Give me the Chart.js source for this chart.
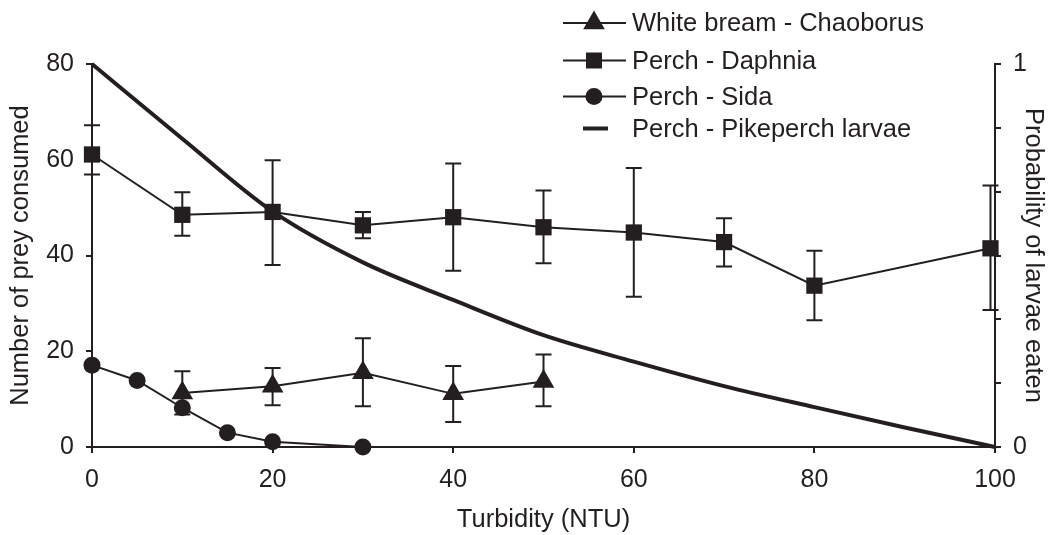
<!DOCTYPE html>
<html>
<head>
<meta charset="utf-8">
<script src="https://cdn.jsdelivr.net/npm/chart.js@4.4.0/dist/chart.umd.min.js"></script>
<style>
  html, body { margin: 0; padding: 0; background: #fff; }
  #wrap { width: 1048px; height: 535px; }
</style>
</head>
<body>
<div id="wrap"><canvas id="chart" width="1048" height="535"></canvas></div>
<script>
const ink = "#231f20";
const fontFamily = "'Liberation Sans', Arial, Helvetica, sans-serif";

// Perch - Daphnia (mean + error bar ends)
const daphniaX = [0, 10, 20, 30, 40, 50, 60, 70, 80, 99.5];
const daphniaY = [61.1, 48.5, 49.1, 46.3, 48.0, 45.9, 44.8, 42.8, 33.7, 41.5];
const daphniaLow = [56.9, 44.1, 38.0, 43.6, 36.8, 38.4, 31.4, 37.7, 26.5, 28.6];
const daphniaHigh = [67.2, 53.2, 59.9, 49.1, 59.2, 53.6, 58.3, 47.8, 41.0, 54.6];

// White bream - Chaoborus
const breamX = [10, 20, 30, 40, 50];
const breamY = [11.3, 12.7, 15.5, 11.1, 13.7];
const breamLow = [6.8, 8.7, 8.5, 5.2, 8.5];
const breamHigh = [15.8, 16.5, 22.7, 16.9, 19.3];

// Perch - Sida
const sidaX = [0, 5, 10, 15, 20, 30];
const sidaY = [17.1, 13.9, 8.2, 3.0, 1.1, 0];

// Perch - Pikeperch larvae (probability, right axis)
const larvaeX = [0, 10, 20, 30, 40, 50, 60, 70, 80, 90, 100];
const larvaeP = [1, 0.805, 0.615, 0.482, 0.384, 0.292, 0.223, 0.159, 0.104, 0.051, 0];

const seriesNames = ["White bream - Chaoborus", "Perch - Daphnia", "Perch - Sida", "Perch - Pikeperch larvae"];
const legendStyles = ["triangle", "rect", "circle", "bar"];

const leftTicks = [0, 20, 40, 60, 80];
const rightTicks = [0, 1 / 6, 2 / 6, 3 / 6, 4 / 6, 5 / 6, 1];

function pts(xs, ys) {
  return xs.map((x, i) => ({ x: x, y: ys[i] }));
}

function marker(ctx, style, x, y) {
  ctx.beginPath();
  if (style === "triangle") {
    const r = 12.5;
    ctx.moveTo(x, y - r);
    ctx.lineTo(x + r * 0.866, y + r / 2);
    ctx.lineTo(x - r * 0.866, y + r / 2);
    ctx.closePath();
    ctx.fill();
  } else if (style === "rect") {
    ctx.rect(x - 8, y - 8, 16, 16);
    ctx.fill();
  } else if (style === "circle") {
    ctx.arc(x, y, 8.5, 0, Math.PI * 2);
    ctx.fill();
  }
}

const errorBars = {
  id: "errorBars",
  beforeDatasetsDraw(chart) {
    const { ctx, scales } = chart;
    ctx.save();
    ctx.strokeStyle = ink;
    ctx.lineWidth = 2;
    [[daphniaX, daphniaLow, daphniaHigh], [breamX, breamLow, breamHigh]].forEach(([xs, lo, hi]) => {
      xs.forEach((v, i) => {
        const px = scales.x.getPixelForValue(v);
        const top = scales.y.getPixelForValue(hi[i]);
        const bot = scales.y.getPixelForValue(lo[i]);
        ctx.beginPath();
        ctx.moveTo(px, top);
        ctx.lineTo(px, bot);
        ctx.moveTo(px - 8, top);
        ctx.lineTo(px + 8, top);
        ctx.moveTo(px - 8, bot);
        ctx.lineTo(px + 8, bot);
        ctx.stroke();
      });
    });
    ctx.restore();
  }
};

const legendBox = {
  id: "legendBox",
  afterDraw(chart) {
    const ctx = chart.ctx;
    const rowsY = [23, 60.5, 96.5, 128.5];
    ctx.save();
    ctx.fillStyle = ink;
    ctx.strokeStyle = ink;
    ctx.font = "25.5px " + fontFamily;
    ctx.textBaseline = "middle";
    seriesNames.forEach((name, i) => {
      const y = rowsY[i];
      if (legendStyles[i] === "bar") {
        ctx.lineWidth = 4;
        ctx.beginPath();
        ctx.moveTo(583, y);
        ctx.lineTo(608, y);
        ctx.stroke();
      } else {
        ctx.lineWidth = 2;
        ctx.beginPath();
        ctx.moveTo(563, y);
        ctx.lineTo(626, y);
        ctx.stroke();
        marker(ctx, legendStyles[i], 594, y);
      }
      ctx.fillText(name, 632, y + 1);
    });
    ctx.restore();
  }
};

const tickFont = { size: 25, family: fontFamily };
const titleFont = { size: 25.5, family: fontFamily };

new Chart(document.getElementById("chart"), {
  type: "scatter",
  data: {
    datasets: [
      {
        label: seriesNames[0],
        data: pts(breamX, breamY),
        showLine: true,
        borderColor: ink,
        borderWidth: 2,
        backgroundColor: ink,
        pointStyle: "triangle",
        pointRadius: 12.5,
        pointBorderWidth: 0,
        yAxisID: "y",
        clip: false
      },
      {
        label: seriesNames[1],
        data: pts(daphniaX, daphniaY),
        showLine: true,
        borderColor: ink,
        borderWidth: 2,
        backgroundColor: ink,
        pointStyle: "rect",
        pointRadius: 11.5,
        pointBorderWidth: 0,
        yAxisID: "y",
        clip: false
      },
      {
        label: seriesNames[2],
        data: pts(sidaX, sidaY),
        showLine: true,
        borderColor: ink,
        borderWidth: 2,
        backgroundColor: ink,
        pointStyle: "circle",
        pointRadius: 8.5,
        pointBorderWidth: 0,
        yAxisID: "y",
        clip: false
      },
      {
        label: seriesNames[3],
        data: pts(larvaeX, larvaeP),
        showLine: true,
        borderColor: ink,
        borderWidth: 4,
        pointRadius: 0,
        cubicInterpolationMode: "monotone",
        yAxisID: "y2",
        clip: false
      }
    ]
  },
  options: {
    responsive: false,
    animation: false,
    devicePixelRatio: 1,
    layout: { padding: { top: 64, left: 0, right: 0, bottom: 0 } },
    plugins: {
      legend: { display: false },
      tooltip: { enabled: false }
    },
    scales: {
      x: {
        type: "linear",
        min: 0,
        max: 100,
        ticks: { stepSize: 20, color: ink, font: tickFont, padding: 12, maxRotation: 0 },
        grid: { drawOnChartArea: false, tickLength: 6, color: ink, lineWidth: 2 },
        border: { color: ink, width: 2 },
        title: { display: true, text: "Turbidity (NTU)", color: ink, font: titleFont, padding: { top: 0, bottom: 0 } },
        afterFit: (s) => { s.height = 88; }
      },
      y: {
        position: "left",
        min: 0,
        max: 80,
        afterBuildTicks: (s) => { s.ticks = leftTicks.map((v) => ({ value: v })); },
        ticks: { color: ink, font: tickFont, padding: 12 },
        grid: { drawOnChartArea: false, tickLength: 6, color: ink, lineWidth: 2 },
        border: { color: ink, width: 2 },
        title: { display: true, text: "Number of prey consumed", color: ink, font: titleFont, padding: { top: 6, bottom: 0 } },
        afterFit: (s) => { s.width = 92; }
      },
      y2: {
        position: "right",
        min: 0,
        max: 1,
        afterBuildTicks: (s) => { s.ticks = rightTicks.map((v) => ({ value: v })); },
        ticks: {
          color: ink,
          font: tickFont,
          padding: 12,
          callback: (v) => (v === 0 || v === 1 ? String(v) : "")
        },
        grid: { drawOnChartArea: false, tickLength: 6, color: ink, lineWidth: 2 },
        border: { color: ink, width: 2 },
        title: { display: true, text: "Probability of larvae eaten", color: ink, font: titleFont, padding: { top: 0, bottom: 0 } },
        afterFit: (s) => { s.width = 53; }
      }
    }
  },
  plugins: [errorBars, legendBox]
});
</script>
</body>
</html>
